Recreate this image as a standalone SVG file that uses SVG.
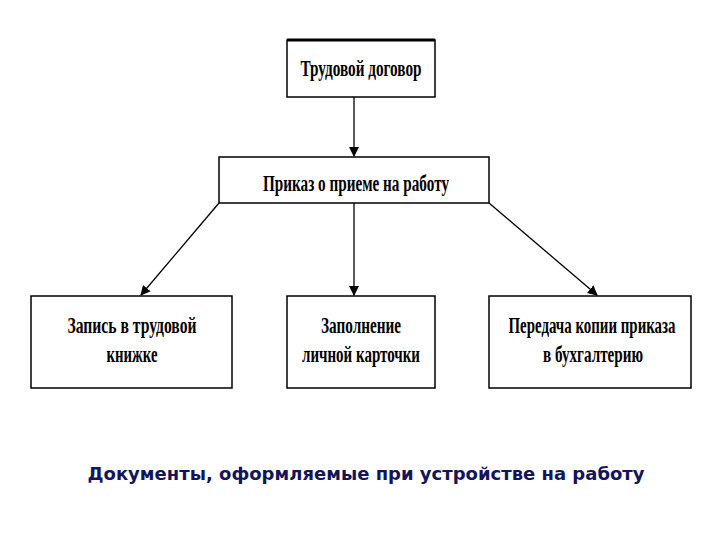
<svg xmlns="http://www.w3.org/2000/svg" width="720" height="540" viewBox="0 0 720 540">
<style>
.box{fill:#fff;stroke:#000;stroke-width:1.5}
.t{font-family:"Liberation Serif",serif;font-size:23px;fill:#000;text-anchor:middle;font-weight:bold}
.c{stroke:#000;stroke-width:1.3;fill:none;marker-end:url(#a)}
</style>
<defs><marker id="a" markerWidth="10" markerHeight="12" refX="9" refY="5" orient="auto" markerUnits="userSpaceOnUse"><path d="M0,0 L10,5 L0,10 Z" fill="#000"/></marker></defs>
<rect width="720" height="540" fill="#fff"/>
<g id="n1"><rect class="box" x="287" y="40" width="148" height="57"/><line x1="287" y1="40" x2="435" y2="40" stroke="#000" stroke-width="3"/><text class="t" x="361" y="76" textLength="121" lengthAdjust="spacingAndGlyphs">Трудовой договор</text></g>
<g id="n2"><rect class="box" x="219" y="157" width="270" height="46"/><text class="t" x="356" y="191" textLength="186" lengthAdjust="spacingAndGlyphs">Приказ о приеме на работу</text></g>
<g id="n3"><rect class="box" x="31" y="296" width="201" height="92"/><text class="t" x="132" y="333" textLength="129" lengthAdjust="spacingAndGlyphs">Запись в трудовой</text><text class="t" x="132" y="362" textLength="51" lengthAdjust="spacingAndGlyphs">книжке</text></g>
<g id="n4"><rect class="box" x="287" y="296" width="148" height="92"/><text class="t" x="361" y="333" textLength="80" lengthAdjust="spacingAndGlyphs">Заполнение</text><text class="t" x="361" y="362" textLength="118" lengthAdjust="spacingAndGlyphs">личной карточки</text></g>
<g id="n5"><rect class="box" x="489" y="296" width="202" height="92"/><text class="t" x="592" y="333" textLength="167" lengthAdjust="spacingAndGlyphs">Передача копии приказа</text><text class="t" x="593" y="362" textLength="100" lengthAdjust="spacingAndGlyphs">в бухгалтерию</text></g>
<g id="connectors">
<line class="c" x1="354" y1="97" x2="354" y2="156"/>
<line class="c" x1="354" y1="203" x2="354" y2="295"/>
<line class="c" x1="219" y1="203" x2="141" y2="295"/>
<line class="c" x1="489" y1="203" x2="597" y2="295"/>
</g>
<text x="366" y="480" font-family="'DejaVu Sans',sans-serif" font-weight="bold" font-size="17" fill="#14145a" text-anchor="middle" textLength="557" lengthAdjust="spacingAndGlyphs">Документы, оформляемые при устройстве на работу</text>
</svg>
